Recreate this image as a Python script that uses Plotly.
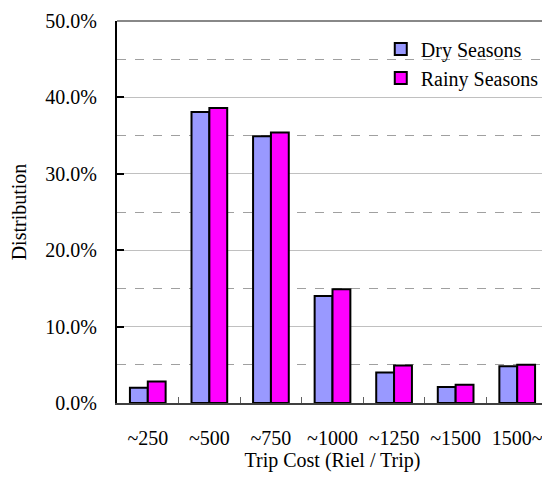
import plotly.graph_objects as go

categories = ["~250", "~500", "~750", "~1000", "~1250", "~1500", "1500~"]
dry_values = [2.0, 38.1, 34.9, 14.0, 4.0, 2.1, 4.8]
rainy_values = [2.8, 38.6, 35.4, 14.9, 4.9, 2.4, 5.0]
y_ticks = [0, 10, 20, 30, 40, 50]
y_tick_labels = ["0.0%", "10.0%", "20.0%", "30.0%", "40.0%", "50.0%"]

FONT = "Liberation Serif, Times New Roman, serif"

fig = go.Figure()
fig.add_trace(go.Bar(name="Dry Seasons", x=categories, y=dry_values,
                     marker=dict(color="#9999FF", line=dict(color="black", width=2))))
fig.add_trace(go.Bar(name="Rainy Seasons", x=categories, y=rainy_values,
                     marker=dict(color="#FF00FF", line=dict(color="black", width=2))))

fig.update_layout(
    width=542, height=472,
    margin=dict(l=109, r=2, t=8, b=77),
    paper_bgcolor="white", plot_bgcolor="white",
    font=dict(family=FONT, size=20, color="black"),
    barmode="group", bargap=0.42, bargroupgap=0.0,
    showlegend=True,
    legend=dict(x=0.612, y=0.978, xanchor="left", yanchor="top",
                bgcolor="rgba(0,0,0,0)", font=dict(size=20, family=FONT),
                tracegroupgap=0, itemwidth=30),
    xaxis=dict(
        showline=True, linecolor="#404040", linewidth=2,
        ticks="inside", tickson="boundaries", ticklen=6, tickcolor="#606060", tickwidth=1,
        tickfont=dict(size=20, family=FONT), ticklabelstandoff=16,
        title=dict(text="Trip Cost (Riel / Trip)", font=dict(size=20, family=FONT), standoff=0),
        showgrid=False,
    ),
    yaxis=dict(
        range=[0, 50], tickvals=y_ticks, ticktext=y_tick_labels,
        showline=True, linecolor="black", linewidth=2,
        ticks="inside", ticklen=7, tickcolor="black", tickwidth=2,
        tickfont=dict(size=20, family=FONT), ticklabelstandoff=14,
        ticklabeloverflow="allow",
        showgrid=True, gridcolor="#C0C0C0", gridwidth=1,
        minor=dict(dtick=5, tick0=0, showgrid=True, gridcolor="#A0A0A0",
                   griddash="dash", gridwidth=1, ticks=""),
        zeroline=False,
        title=dict(text="Distribution", font=dict(size=20, family=FONT), standoff=18),
    ),
    shapes=[
        dict(type="line", xref="paper", yref="paper", x0=0, x1=1, y0=1, y1=1,
             line=dict(color="#888888", width=2)),
        dict(type="line", xref="paper", yref="paper", x0=1, x1=1, y0=0, y1=1,
             line=dict(color="#A0A0A0", width=1)),
    ],
)

fig.write_html("out.html")
